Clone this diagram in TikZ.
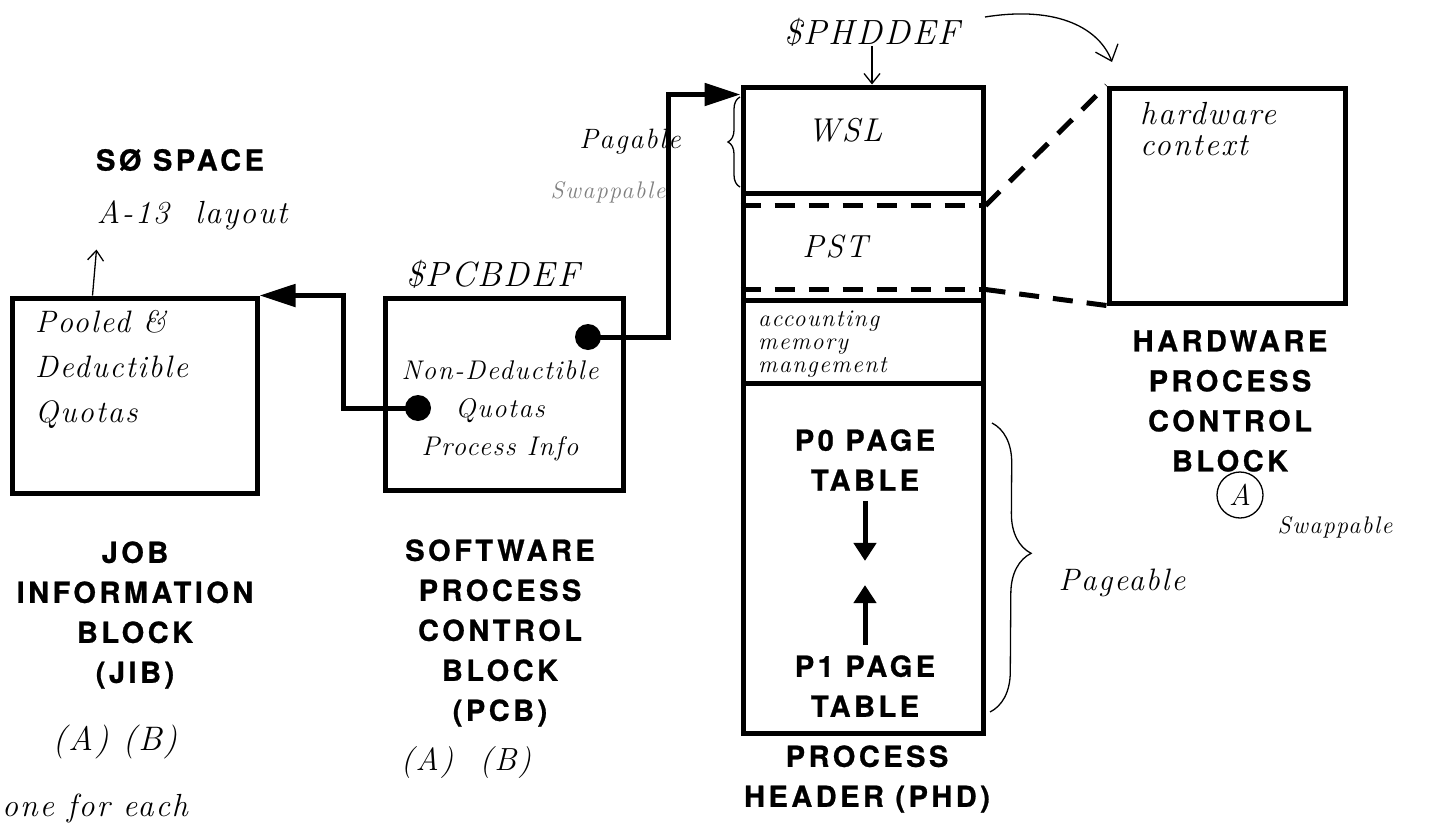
\documentclass[tikz,border=0pt]{standalone}
\usepackage{fontspec}
\newfontfamily\labelfont[LetterSpace=12,FakeBold=0.8]{TeX Gyre Heros}
\newfontfamily\handfont[LetterSpace=6]{Latin Modern Roman}
\usetikzlibrary{arrows.meta,positioning,calc,decorations.pathreplacing}

\tikzset{
  block/.style={draw, line width=5pt, inner sep=0pt},
  dot/.style={circle, fill, minimum size=26pt, inner sep=0pt},
  link/.style={line width=5pt, -{Triangle[length=36pt,width=22pt]}},
  ptr/.style={line width=5pt, -{Triangle[length=18pt,width=22pt]}},
  dashline/.style={line width=5pt, dash pattern=on 20pt off 14pt},
  caption/.style={font=\labelfont\bfseries\fontsize{29}{40}\selectfont, align=center, inner sep=0pt},
  hand/.style={font=\handfont\itshape\fontsize{#1}{#1}\selectfont, inner sep=0pt},
  hand/.default=24,
  handlines/.style 2 args={font=\handfont\itshape\fontsize{#1}{#2}\selectfont, inner sep=0pt},
  pen/.style={line width=1.3pt},
  barb/.style={pen, -{Straight Barb[length=10pt,width=16pt]}},
}

\begin{document}
\begin{tikzpicture}[x=1pt,y=1pt,yscale=-1]
\fill[white] (0,0) rectangle (1433,827);
\useasboundingbox (0,0) rectangle (1433,827);

% blocks
\node[block, minimum width=245pt, minimum height=195pt] (jib) at (134.5,395.5) {};
\node[block, minimum width=238pt, minimum height=192pt] (pcb) at (504,394) {};
\node[block, minimum width=240pt, minimum height=106pt] (wsl) at (863,140) {};
\node[block, minimum width=240pt, minimum height=107pt] (pst) at (863,246.5) {};
\node[block, minimum width=240pt, minimum height=83pt] (acct) at (863,341.5) {};
\node[block, minimum width=240pt, minimum height=350pt] (ptab) at (863,558) {};
\node[block, minimum width=236pt, minimum height=215pt] (hw) at (1227,195.5) {};

% PST band
\coordinate (psthi) at ($(pst.north east)+(0,15)$);
\coordinate (pstlo) at ($(pst.south east)+(0,-13)$);
\draw[dashline] ($(pst.north west)+(0,15)$) -- (psthi);
\draw[dashline] ($(pst.south west)+(0,-13)$) -- (pstlo);
\draw[dashline] (psthi) -- (hw.north west);
\draw[dashline] (pstlo) -- (hw.south west);

% pointers
\node[dot] (dotjib) at (418,408) {};
\node[dot] (dotphd) at (588,337) {};
\draw[link] (dotjib.center) -- ++(-75,0) |- (jib.north east);
\draw[link] (dotphd.center) -- ++(80,0) |- ($(wsl.north west)+(0,10)$);

% printed labels
\node[caption] (s0) at (180,160) {SØ SPACE};
\node[caption] (jiblbl) at (135,615) {JOB\\INFORMATION\\BLOCK\\(JIB)};
\node[caption] (pcblbl) at (500,633) {SOFTWARE\\PROCESS\\CONTROL\\BLOCK\\(PCB)};
\node[caption] (phdlbl) at (867,779) {PROCESS\\HEADER (PHD)};
\node[caption] (hwlbl) at (1230,401) {HARDWARE\\PROCESS\\CONTROL\\BLOCK};
\node[caption] (p0) at (865,460) {P0 PAGE\\TABLE};
\node[caption] (p1) at (865,686) {P1 PAGE\\TABLE};
\draw[ptr] ($(p0.south)+(0,10)$) -- ++(0,60);
\draw[ptr] ($(p1.north)+(0,-10)$) -- ++(0,-60);

% notes
\node[hand=32] (a13) at (192,215) {A-13 \ layout};
\draw[barb] ($(jib.north west)+(83,0)$) -- ++(4,-46);
\node[handlines={31}{45}, align=left, anchor=north west] (jibnote) at (35,310) {Pooled \&\\Deductible\\Quotas};
\node[hand=35] (pcbdef) at (493,274) {\$PCBDEF};
\node[handlines={27}{38}, align=center] (pcbnote) at (500,411) {Non-Deductible\\Quotas\\Process Info};
\node[hand=35] (phddef) at (872,32) {\$PHDDEF};
\draw[barb] (phddef.south) -- (phddef.south |- wsl.north);
\draw[pen, -{Straight Barb[length=14pt,width=24pt]}] (985,17) .. controls (1060,5) and (1100,30) .. (1112,62);
\node[hand=33] (wslt) at (845,130) {WSL};
\node[hand=32] (pstt) at (835,247) {PST};
\node[handlines={24}{23}, align=left, anchor=north west] (acctt) at (758,311) {accounting\\memory\\mangement};
\node[handlines={32}{31}, align=left, anchor=north west] (hwnote) at (1140,102) {hardware\\context};
\node[hand=28] (pagable) at (630,142) {Pagable};
\node[hand=24, text=gray] (swap1) at (608,192) {Swappable};
\draw[pen, decorate, decoration={brace, amplitude=12pt}] (740,187) -- (740,97);
\draw[pen, decorate, decoration={brace, amplitude=40pt, aspect=0.45}] (992,423) -- (990,712);
\node[hand=31] (pageable) at (1122,583) {Pageable};
\node[hand=30, draw, pen, circle, minimum size=46pt] (hwa) at (1240,495) {A};
\node[hand=24] (swap2) at (1335,527) {Swappable};
\node[hand=34] (jibab) at (115,742) {(A) (B)};
\node[hand=32] (pcbab) at (466,763) {(A) \ (B)};
\node[hand=32, anchor=west] (each) at (2,808) {one for each};
\end{tikzpicture}
\end{document}
